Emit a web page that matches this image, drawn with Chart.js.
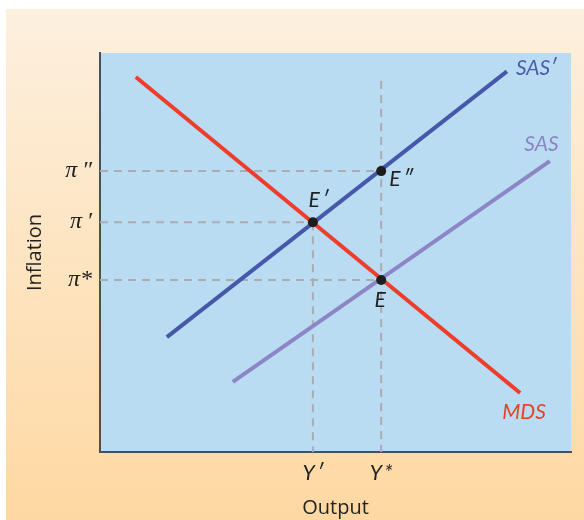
<!DOCTYPE html>
<html>
<head>
<meta charset="utf-8">
<script src="https://cdn.jsdelivr.net/npm/chart.js@4/dist/chart.umd.min.js"></script>
<style>
  html, body { margin: 0; padding: 0; background: #fff; }
  #wrap { width: 584px; height: 520px; }
</style>
</head>
<body>
<div id="wrap"><canvas id="adChart" width="584" height="520"></canvas></div>
<script>
// Hodnoty grafu (osa 0..100 v obou smerech)
const xTickValues = [45.2, 59.7];
const xTickLabels = ['Y\u2009\u2032', 'Y\u2009*'];
const yTickValues = [43.1, 57.6, 70.4];
const yTickLabels = ['\u03c0*', '\u03c0\u2009\u2032', '\u03c0\u2009\u2033'];

const mdsLine = [{x: 7.6, y: 94.0}, {x: 89.2, y: 14.8}];
const sasPrimeLine = [{x: 14.2, y: 28.8}, {x: 86.4, y: 95.4}];
const sasLine = [{x: 28.2, y: 17.6}, {x: 95.5, y: 72.9}];

const eqPoints = [{x: 59.7, y: 43.1}, {x: 45.2, y: 57.6}, {x: 59.7, y: 70.4}];
const eqNames = ['E', 'E\u2009\u2032', 'E\u2009\u2033'];

// Popisky primek a bodu: text, pozice v datech, barva, zarovnani
const curveLabels = [
  {text: 'SAS\u2032', x: 88.3, y: 96.2, color: '#4a5ba8', align: 'left'},
  {text: 'SAS', x: 90.1, y: 77.1, color: '#8b84c4', align: 'left'},
  {text: 'MDS', x: 85.4, y: 10.0, color: '#e8402a', align: 'left'},
  {text: eqNames[0], x: 59.5, y: 38.0, color: '#222', align: 'center'},
  {text: eqNames[1], x: 46.4, y: 63.2, color: '#222', align: 'center'},
  {text: eqNames[2], x: 61.4, y: 68.3, color: '#222', align: 'left'}
];

const dashColor = '#a9adb2';

function dashed(points) {
  return {
    data: points,
    borderColor: dashColor,
    borderWidth: 2,
    borderDash: [8, 6],
    pointRadius: 0,
    order: 3
  };
}

const backgroundPlugin = {
  id: 'pozadi',
  beforeDraw(chart) {
    const ctx = chart.ctx;
    const area = chart.chartArea;
    ctx.save();
    ctx.fillStyle = '#ffffff';
    ctx.fillRect(0, 0, chart.width, chart.height);
    const grad = ctx.createLinearGradient(0, 9, 0, chart.height);
    grad.addColorStop(0, '#fdf0df');
    grad.addColorStop(1, '#fed8a2');
    ctx.fillStyle = grad;
    ctx.fillRect(6, 9, chart.width - 6, chart.height - 9);
    ctx.fillStyle = '#badcf3';
    ctx.fillRect(area.left, area.top, area.right - area.left, area.bottom - area.top);
    ctx.restore();
  }
};

const labelPlugin = {
  id: 'popisky',
  afterDatasetsDraw(chart) {
    const ctx = chart.ctx;
    const xs = chart.scales.x;
    const ys = chart.scales.y;
    ctx.save();
    ctx.font = 'italic 21px Lato';
    ctx.textBaseline = 'middle';
    curveLabels.forEach(function (l) {
      ctx.fillStyle = l.color;
      ctx.textAlign = l.align;
      ctx.fillText(l.text, xs.getPixelForValue(l.x), ys.getPixelForValue(l.y));
    });
    ctx.restore();
  }
};

const ctx = document.getElementById('adChart').getContext('2d');

new Chart(ctx, {
  type: 'line',
  data: {
    datasets: [
      {
        type: 'scatter',
        data: eqPoints,
        pointRadius: 5,
        pointBackgroundColor: '#1e1e1e',
        pointBorderWidth: 0,
        showLine: false,
        order: 0
      },
      {data: mdsLine, borderColor: '#ee3d2a', borderWidth: 4, pointRadius: 0, order: 1},
      {data: sasPrimeLine, borderColor: '#4658aa', borderWidth: 4, pointRadius: 0, order: 1},
      {data: sasLine, borderColor: '#8c86c6', borderWidth: 4, pointRadius: 0, order: 1},
      dashed([{x: 0, y: yTickValues[2]}, {x: xTickValues[1], y: yTickValues[2]}]),
      dashed([{x: 0, y: yTickValues[1]}, {x: xTickValues[0], y: yTickValues[1]}]),
      dashed([{x: 0, y: yTickValues[0]}, {x: xTickValues[1], y: yTickValues[0]}]),
      dashed([{x: xTickValues[0], y: yTickValues[1]}, {x: xTickValues[0], y: 0}]),
      dashed([{x: xTickValues[1], y: 93.0}, {x: xTickValues[1], y: 0}])
    ]
  },
  options: {
    responsive: false,
    animation: false,
    layout: {padding: {top: 53, right: 13, left: 0, bottom: 0}},
    plugins: {legend: {display: false}, tooltip: {enabled: false}},
    scales: {
      x: {
        type: 'linear',
        min: 0,
        max: 100,
        grid: {display: false, drawTicks: false},
        border: {display: true, color: '#4b5057', width: 2},
        afterBuildTicks: function (scale) {
          scale.ticks = xTickValues.map(v => ({value: v}));
        },
        afterFit: function (scale) { scale.height = 68; },
        ticks: {
          padding: 9,
          color: '#222',
          font: {family: 'Lato', style: 'italic', size: 21},
          maxRotation: 0,
          callback: function (value) {
            const i = xTickValues.indexOf(value);
            return i >= 0 ? xTickLabels[i] : '';
          }
        },
        title: {
          display: true,
          text: 'Output',
          color: '#222',
          font: {family: 'Open Sans', size: 20},
          padding: {top: 0, bottom: 0}
        }
      },
      y: {
        type: 'linear',
        min: 0,
        max: 100,
        grid: {display: false, drawTicks: false},
        border: {display: true, color: '#4b5057', width: 2},
        afterBuildTicks: function (scale) {
          scale.ticks = yTickValues.map(v => ({value: v}));
        },
        afterFit: function (scale) { scale.width = 100; },
        ticks: {
          padding: 8,
          color: '#222',
          font: {family: 'Liberation Serif', style: 'italic', size: 24},
          callback: function (value) {
            const i = yTickValues.indexOf(value);
            return i >= 0 ? yTickLabels[i] : '';
          }
        },
        title: {
          display: true,
          text: 'Inflation',
          color: '#222',
          font: {family: 'Open Sans', size: 20},
          padding: {top: 23, bottom: 0}
        }
      }
    }
  },
  plugins: [backgroundPlugin, labelPlugin]
});
</script>
</body>
</html>
